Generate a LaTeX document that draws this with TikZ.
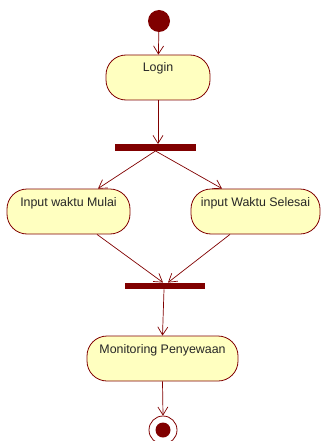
\documentclass[tikz,border=0pt]{standalone}
\usepackage{fontspec}
\setmainfont{Liberation Sans}
\usetikzlibrary{arrows.meta,calc}
\definecolor{umlline}{HTML}{800000}
\definecolor{umlfill}{HTML}{FFFFC0}
\begin{document}
\begin{tikzpicture}[x=1pt,y=-1pt,
  activity/.style={draw=umlline,fill=umlfill,line width=0.8pt,rounded corners=20pt,
    inner xsep=0pt,inner ysep=0pt,text height=17pt,text depth=28pt,
    font=\fontsize{12.4}{14}\selectfont,text=black!85},
  bar/.style={fill=umlline,draw=none,inner sep=0pt,minimum height=6.5pt},
  flow/.style={draw=umlline,line width=0.7pt,-{Straight Barb[length=8pt,width=10pt,line width=0.7pt]}}]
\useasboundingbox (0,0) rectangle (321,441);

% initial and final states
\node[circle,fill=umlline,inner sep=0pt,minimum size=22pt] (start) at (159,21) {};
\node[circle,draw=umlline,line width=0.8pt,fill=white,inner sep=0pt,minimum size=28pt] (stop) at (163,430) {};
\fill[umlline] (stop.center) circle (7.5pt);

% activities
\node[activity,minimum width=104pt] (login) at (158,77.5) {Login};
\node[activity,minimum width=123pt] (mulai) at (68.5,211.5) {Input waktu Mulai};
\node[activity,minimum width=129pt] (selesai) at (255.5,211.5) {input Waktu Selesai};
\node[activity,minimum width=151pt] (monitor) at (162.5,358.5) {Monitoring Penyewaan};

% fork and join bars
\node[bar,minimum width=81pt] (fork) at (155.5,147.5) {};
\node[bar,minimum width=80pt] (join) at (165,286) {};

% control flows
\draw[flow] (start) -- (login);
\draw[flow] (login.south) -- (login.south |- fork.north);
\draw[flow] (fork.south) -- ($(mulai.north)+(29.5,0)$);
\draw[flow] (fork.south) -- ($(selesai.north)+(-33.5,0)$);
\draw[flow] ($(mulai.south)+(28.5,0)$) -- ($(join.north)+(-2,0)$);
\draw[flow] ($(selesai.south)+(-25.5,0)$) -- ($(join.north)+(3,0)$);
\draw[flow] ($(join.south)+(-1,0)$) -- (monitor.north);
\draw[flow] (monitor.south) -- (stop.north);
\end{tikzpicture}
\end{document}
